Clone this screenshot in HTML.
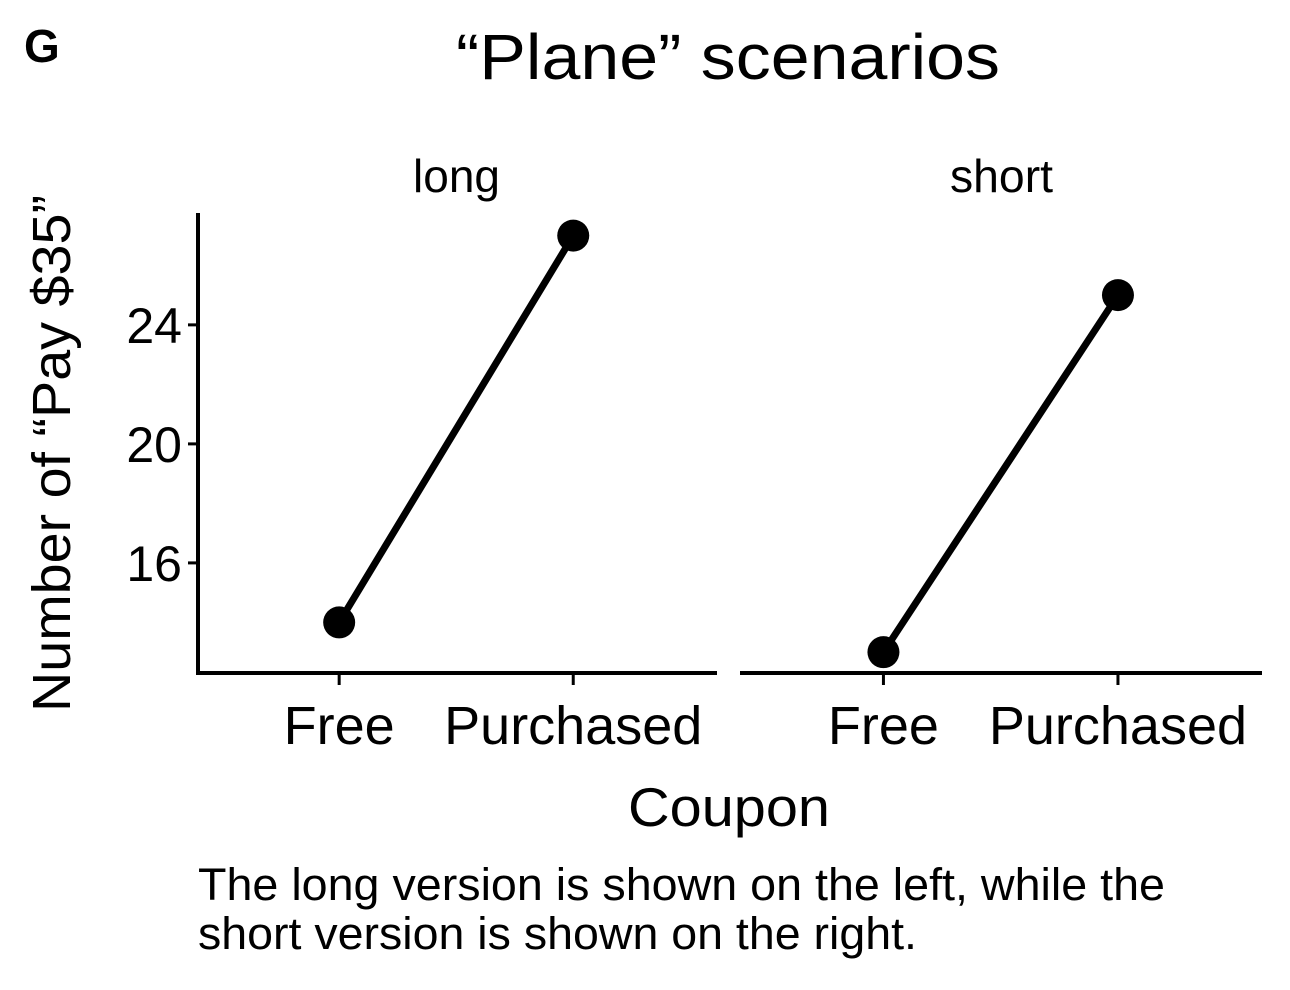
<!DOCTYPE html>
<html><head><meta charset="utf-8"><style>
body{margin:0;background:#fff;}
svg{display:block;font-family:"Liberation Sans",Arial,sans-serif;}
</style></head><body>
<svg width="1290" height="990" viewBox="0 0 1290 990" xmlns="http://www.w3.org/2000/svg">
<text x="24" y="62" font-size="46" font-weight="bold">G</text>
<text x="456" y="79" font-size="64" textLength="544" lengthAdjust="spacingAndGlyphs">“Plane” scenarios</text>
<text x="413" y="192" font-size="46" textLength="87" lengthAdjust="spacingAndGlyphs">long</text>
<text x="950" y="192" font-size="46" textLength="103" lengthAdjust="spacingAndGlyphs">short</text>
<text transform="translate(70,712) rotate(-90)" font-size="54" textLength="517" lengthAdjust="spacingAndGlyphs">Number of “Pay $35”</text>
<text x="628" y="826" font-size="55" textLength="202" lengthAdjust="spacingAndGlyphs">Coupon</text>
<text x="198" y="900" font-size="45" textLength="967" lengthAdjust="spacingAndGlyphs">The long version is shown on the left, while the</text>
<text x="198" y="949" font-size="45" textLength="719" lengthAdjust="spacingAndGlyphs">short version is shown on the right.</text>
<g id="plot"></g>
</svg>
<script>
const categories = ["Free","Purchased"];
const facets = ["long","short"];
const longValues = [14,27];
const shortValues = [13,25];
const yTicks = [16,20,24];

const NS="http://www.w3.org/2000/svg";
const plotG=document.getElementById('plot');
function mk(t,a){const e=document.createElementNS(NS,t);for(const k in a)e.setAttribute(k,a[k]);plotG.appendChild(e);return e;}
const yMin=12.3, yMax=27.76, yTop=213, yBot=673;
function yS(v){return yBot-(v-yMin)/(yMax-yMin)*(yBot-yTop);}
const panels=[{x0:198,x1:717,vals:longValues},{x0:742,x1:1262,vals:shortValues}];
function xS(p,i){const w=p.x1-p.x0;return p.x0+w*(0.272+0.451*i);}
const ax=mk('line',{x1:198,y1:yTop,x2:198,y2:yBot+2,stroke:'#000','stroke-width':4});


yTicks.forEach(t=>{
  const l=mk('line',{x1:188,x2:198,y1:yS(t),y2:yS(t),stroke:'#000','stroke-width':3});
  
  
  const tx=mk('text',{x:182,y:yS(t)+18,'font-size':50,'text-anchor':'end'});
  tx.textContent=t;
  
  
});
panels.forEach((p,pi)=>{
  const xl=mk('line',{x1:p.x0-2,x2:p.x1,y1:yBot,y2:yBot,stroke:'#000','stroke-width':4});
  
  
  categories.forEach((c,i)=>{
    const tk=mk('line',{x1:xS(p,i),x2:xS(p,i),y1:yBot,y2:yBot+12,stroke:'#000','stroke-width':3});
    
    
    const tx=mk('text',{x:xS(p,i),y:744,'font-size':54,'text-anchor':'middle'});
    tx.textContent=c;
    
    
  });
  const ln=mk('line',{x1:xS(p,0),y1:yS(p.vals[0]),x2:xS(p,1),y2:yS(p.vals[1]),stroke:'#000','stroke-width':7});
  
  
  p.vals.forEach((v,i)=>{
    const c=mk('circle',{cx:xS(p,i),cy:yS(v),r:16,fill:'#000'});
    
    
  });
});
</script>
</body></html>
